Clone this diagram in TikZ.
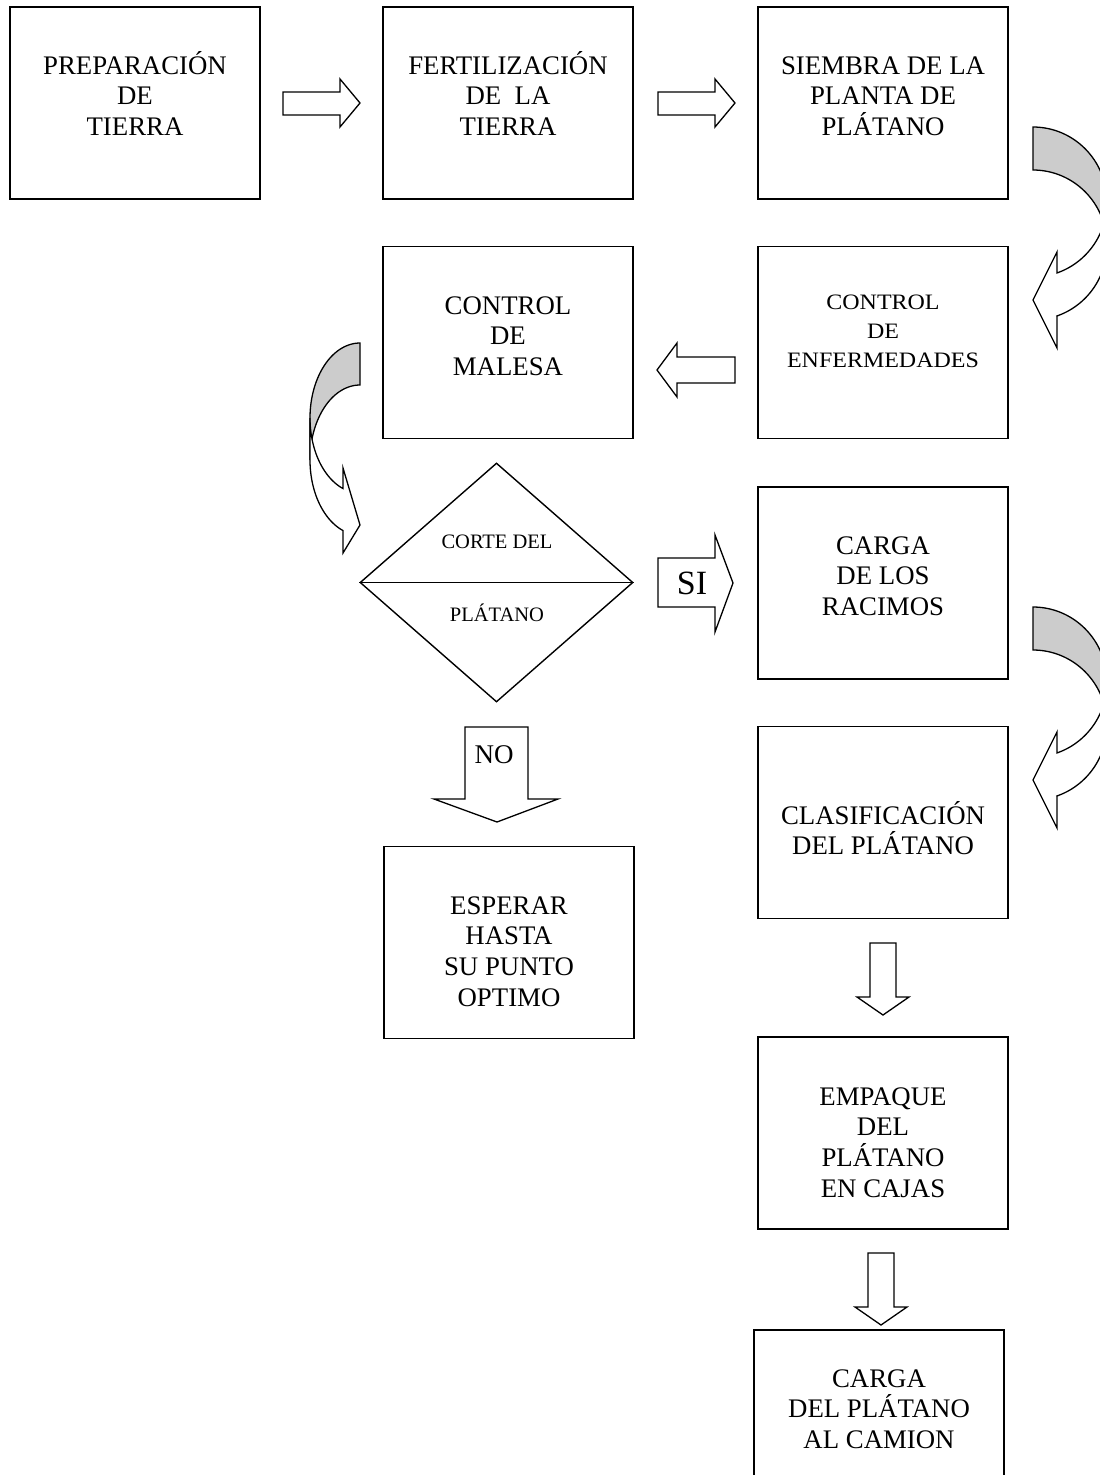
\documentclass[tikz,border=0pt]{standalone}
\usepackage{fontspec}
\setmainfont{Liberation Serif}
\newfontfamily\widefont[FakeStretch=1.09]{Liberation Serif}
\usetikzlibrary{shapes.geometric}
\newcommand\myfs[2]{\fontsize{#1}{#2}\selectfont}
\tikzset{
  procbox/.style={draw, line width=1.4pt, minimum width=250pt, minimum height=192pt, inner sep=0pt},
  txt/.style={inner sep=0pt, align=center, font=\myfs{26.8}{30.7}, anchor=north},
  barr/.style={draw, line width=1.3pt, fill=white, line join=miter},
  curv/.style={draw, line width=1.3pt, line join=miter},
}
\begin{document}
\begin{tikzpicture}[x=1pt, y=-1pt]
\useasboundingbox (0,0) rectangle (1100,1475);
\fill[white] (0,0) rectangle (1100,1475);

% boxes
\node[procbox] (b1) at (135,103) {};
\node[procbox] (b2) at (508,103) {};
\node[procbox] (b3) at (883,103) {};
\node[procbox] (b4) at (508,342.5) {};
\node[procbox] (b5) at (883,342.5) {};
\node[procbox] (b7) at (883,583) {};
\node[procbox] (b8) at (883,822.5) {};
\node[procbox] (b9) at (509,942.5) {};
\node[procbox] (b10) at (883,1133) {};
\node[procbox] (b11) at (879,1426) {};

% texts
\node[txt] (t1) at (135,48.8) {\rule{0pt}{25pt}PREPARACIÓN\\DE\\TIERRA};
\node[txt] (t2) at (508,48.8) {\rule{0pt}{25pt}FERTILIZACIÓN\\DE~~LA\\TIERRA};
\node[txt] (t3) at (883,48.8) {\rule{0pt}{25pt}SIEMBRA DE LA\\PLANTA DE\\PLÁTANO};
\node[txt] (t4) at (508,288.8) {\rule{0pt}{25pt}CONTROL\\DE\\MALESA};
\node[txt, font=\widefont\myfs{22}{29}] (t5) at (883,287.2) {\rule{0pt}{22pt}CONTROL\\DE\\ENFERMEDADES};
\node[txt] (t7) at (883,528.8) {\rule{0pt}{25pt}CARGA\\DE LOS\\RACIMOS};
\node[txt] (t8) at (883,798.8) {\rule{0pt}{25pt}CLASIFICACIÓN\\DEL PLÁTANO};
\node[txt] (t9) at (509,888.8) {\rule{0pt}{25pt}ESPERAR\\HASTA\\SU PUNTO\\OPTIMO};
\node[txt] (t10) at (883,1079.8) {\rule{0pt}{25pt}EMPAQUE\\DEL\\PLÁTANO\\EN CAJAS};
\node[txt] (t11) at (879,1361.8) {\rule{0pt}{25pt}CARGA\\DEL PLÁTANO\\AL CAMION};

% decision diamond
\node[diamond, draw, line width=1.4pt, minimum width=273pt, minimum height=239pt, inner sep=0pt] (d) at (496.5,582.5) {};
\draw[line width=1.4pt] (d.west) -- (d.east);
\node[inner sep=0pt, anchor=base, font=\myfs{20.5}{24}] (dt1) at (497,548.7) {CORTE DEL};
\node[inner sep=0pt, anchor=base, font=\myfs{20.5}{24}] (dt2) at (497,621.7) {PLÁTANO};

% straight block arrows
\draw[barr] (283,92) -- (340,92) -- (340,79) -- (360,103) -- (340,127) -- (340,115) -- (283,115) -- cycle;
\draw[barr] (658,92) -- (715,92) -- (715,79) -- (735,103) -- (715,127) -- (715,115) -- (658,115) -- cycle;
\draw[barr] (735,357) -- (677,357) -- (677,343) -- (657,370) -- (677,397) -- (677,383) -- (735,383) -- cycle;
\draw[barr] (658,558) -- (715,558) -- (715,535) -- (733,583) -- (715,632) -- (715,607) -- (658,607) -- cycle;
\node[inner sep=0pt, anchor=base, font=\myfs{34}{38}] (si) at (692,594) {SI};
\draw[barr] (465,727) -- (528,727) -- (528,799) -- (558,799) -- (497,822) -- (434,799) -- (465,799) -- cycle;
\node[inner sep=0pt, anchor=base, font=\myfs{27}{30}] (no) at (494,763) {NO};
\draw[barr] (870,943) -- (896,943) -- (896,997) -- (909,997) -- (883,1015) -- (857,997) -- (870,997) -- cycle;
\draw[barr] (868,1253) -- (894,1253) -- (894,1307) -- (907,1307) -- (881,1325) -- (855,1307) -- (868,1307) -- cycle;

% curved arrow right 1
\filldraw[curv, fill=gray!40] plot[domain=-90:0, samples=40] ({1033+74*cos(\x)},{202+75*sin(\x)}) -- plot[domain=0:-90, samples=40] ({1033+74*cos(\x)},{245+75*sin(\x)}) -- cycle;
\filldraw[curv, fill=white] plot[domain=0:71.1, samples=40] ({1033+74*cos(\x)},{202+75*sin(\x)}) -- (1057,252) -- (1033,300) -- (1057,348) -- (1057,316) -- plot[domain=71.1:0, samples=40] ({1033+74*cos(\x)},{245+75*sin(\x)}) -- cycle;

% curved arrow right 2
\filldraw[curv, fill=gray!40] plot[domain=-90:0, samples=40] ({1033+74*cos(\x)},{682+75*sin(\x)}) -- plot[domain=0:-90, samples=40] ({1033+74*cos(\x)},{725+75*sin(\x)}) -- cycle;
\filldraw[curv, fill=white] plot[domain=0:71.1, samples=40] ({1033+74*cos(\x)},{682+75*sin(\x)}) -- (1057,732) -- (1033,780) -- (1057,828) -- (1057,796) -- plot[domain=71.1:0, samples=40] ({1033+74*cos(\x)},{725+75*sin(\x)}) -- cycle;

% curved arrow left
\filldraw[curv, fill=gray!40] plot[domain=-90:-180, samples=40] ({360+50*cos(\x)},{418+75*sin(\x)}) -- plot[domain=-180:-90, samples=40] ({360+50*cos(\x)},{460+75*sin(\x)}) -- cycle;
\filldraw[curv, fill=white] plot[domain=180:109.9, samples=40] ({360+50*cos(\x)},{418+75*sin(\x)}) -- (343,468) -- (360,525) -- (343,553) -- (343,530) -- plot[domain=109.9:180, samples=40] ({360+50*cos(\x)},{460+75*sin(\x)}) -- cycle;
\end{tikzpicture}
\end{document}
